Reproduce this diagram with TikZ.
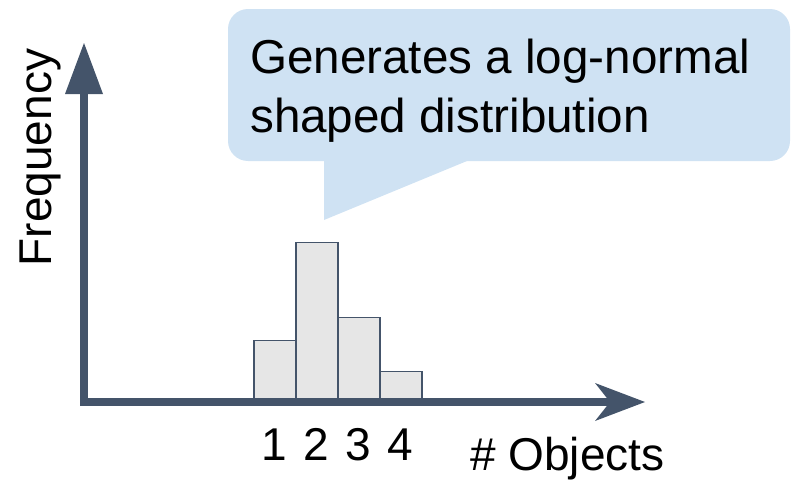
\documentclass[tikz,border=0pt]{standalone}
\usepackage{fontspec}
\setmainfont{Liberation Sans}
\usetikzlibrary{arrows.meta}
\definecolor{axisblue}{HTML}{44546A}
\definecolor{bubbleblue}{HTML}{CFE2F3}
\definecolor{barfill}{HTML}{E6E6E6}
\tikzstyle{axis}=[draw=axisblue, line width=8pt, line join=miter]
\tikzstyle{barbox}=[draw=axisblue, fill=barfill, line width=1.5pt, inner sep=0pt, minimum width=42pt, anchor=south west]
\tikzstyle{bubble}=[fill=bubbleblue]
\tikzstyle{bigtext}=[inner sep=0pt, font=\fontsize{46}{59}\selectfont]

\begin{document}
\begin{tikzpicture}[x=1pt, y=-1pt]
\useasboundingbox (0,0) rectangle (792,479);
% callout
\fill[bubble, rounded corners=20pt] (228,9) rectangle (790,161);
\fill[bubble] (324,150) -- (324,220) -- (467,161) -- (467,150) -- cycle;
\node[bigtext, font=\fontsize{47.6}{59}\selectfont, anchor=base west, align=left] (msg) at (250,132.5) {Generates a log-normal\\shaped distribution};
% histogram
\foreach \i/\top in {1/341,2/243,3/318,4/372}{
  \node[barbox, minimum height={(402-\top)*1pt}] (bar\i) at ({253+42*(\i-1)},402) {};
  \node[bigtext, anchor=base] (num\i) at (bar\i.south |- 0,460) {\i};
}
% axes
\coordinate (origin) at (84,402);
\coordinate (ytip) at (84,43);
\coordinate (xtip) at (645,402);
\draw[axis, {Triangle[length=51pt,width=38pt,line width=0pt]}-{Stealth[length=50pt,width=38pt,inset=15pt,line width=0pt]}] (ytip) -- (origin) -- (xtip);
\node[bigtext, anchor=base west] (xlabel) at (470,470) {\# Objects};
\node[bigtext, anchor=base, rotate=90] (ylabel) at (51,157.5) {Frequency};
\end{tikzpicture}
\end{document}
